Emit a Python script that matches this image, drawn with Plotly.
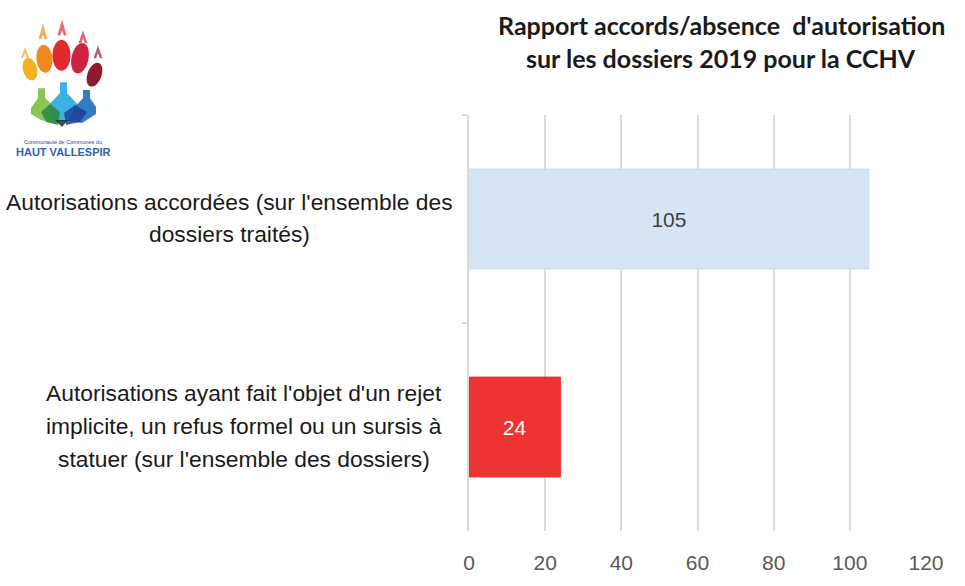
import math
import plotly.graph_objects as go

# --- data -------------------------------------------------------------
categories = [
    "Autorisations accordées (sur l'ensemble des dossiers traités)",
    "Autorisations ayant fait l'objet d'un rejet implicite, un refus formel ou un sursis à statuer (sur l'ensemble des dossiers)",
]
category_lines = [
    ["Autorisations accordées (sur l'ensemble des", "dossiers traités)"],
    ["Autorisations ayant fait l'objet d'un rejet",
     "implicite, un refus formel ou un sursis à",
     "statuer (sur l'ensemble des dossiers)"],
]
values = [105, 24]
bar_colors = ["#D5E5F4", "#EE3333"]
label_colors = ["#404040", "#FFFFFF"]
x_ticks = [0, 20, 40, 60, 80, 100, 120]
title_lines = ["Rapport accords/absence  d'autorisation",
               "sur les dossiers 2019 pour la CCHV"]

# --- geometry helpers (pixel -> paper) --------------------------------
W, H = 965, 586
ML, MR, MT, MB = 469, 39, 115, 53
PW, PH = W - ML - MR, H - MT - MB


def px(x):
    return (x - ML) / PW


def py(y):
    return 1 - (y - MT) / PH


def path_from(points):
    return "M " + " L ".join(f"{px(x):.5f},{py(y):.5f}" for x, y in points) + " Z"


def ellipse(cx, cy, rx, ry, deg, n=48):
    a = math.radians(deg)
    pts = []
    for i in range(n):
        t = 2 * math.pi * i / n
        ex, ey = rx * math.cos(t), ry * math.sin(t)
        pts.append((cx + ex * math.cos(a) - ey * math.sin(a),
                    cy + ex * math.sin(a) + ey * math.cos(a)))
    return path_from(pts)


def chevron(kx, top, bot, half=4.5):
    return path_from([(kx, top), (kx + half, bot), (kx + half - 2.6, bot),
                      (kx, bot - 5), (kx - half + 2.6, bot), (kx - half, bot)])


fig = go.Figure()
fig.add_trace(go.Bar(
    y=categories,
    x=values,
    orientation="h",
    marker=dict(color=bar_colors, line=dict(color=["#C9DCF0", "#EE3333"], width=1)),
    text=[str(v) for v in values],
    textposition="inside",
    insidetextanchor="middle",
    textfont=dict(family="Liberation Sans, Arial, sans-serif", size=21, color=label_colors),
    hoverinfo="skip",
    showlegend=False,
))

shapes = []
annotations = []

# category labels, one line each, centred in their text block
block_centres = [229, 244]
line_gap = 33
for idx, lines in enumerate(category_lines):
    centre_y = MT + PH * (idx + 0.5) / len(category_lines)
    n = len(lines)
    for j, line in enumerate(lines):
        y = centre_y + (j - (n - 1) / 2) * line_gap - 1
        annotations.append(dict(
            x=px(block_centres[idx]), y=py(y), xref="paper", yref="paper",
            xanchor="center", yanchor="middle", showarrow=False, text=line,
            font=dict(family="Liberation Sans, Arial, sans-serif", size=22.8, color="#1A1A1A"),
        ))

# chart title
for j, line in enumerate(title_lines):
    annotations.append(dict(
        x=px(721), y=py(25 + 33 * j), xref="paper", yref="paper",
        xanchor="center", yanchor="middle", showarrow=False, text="<b>" + line + "</b>",
        font=dict(family="Lato, Open Sans, sans-serif", size=25, color="#1A1A1A"),
    ))

# logo: paw toes, claws and flasks
toes = [
    (30, 69, 7, 11.5, -15, "#F4B223", "#F8C46A"),
    (44.5, 58.5, 8, 14, -5, "#F08A1D", "#F5AB6A"),
    (61.5, 55, 9, 15.5, 0, "#E02A2F", "#EA6B6E"),
    (80, 58, 8.5, 15.5, 12, "#CE2340", "#DE6178"),
    (94.5, 74.5, 7, 12.5, 20, "#8E1B30", "#B8636F"),
]
claws = [(25, 47, 58), (43, 23, 39), (62, 19, 35), (83, 30, 43), (98, 45, 58)]
for (cx, cy, rx, ry, deg, col, light), (kx, top, bot) in zip(toes, claws):
    shapes.append(dict(type="path", xref="paper", yref="paper", path=ellipse(cx, cy, rx, ry, deg),
                       fillcolor=col, line=dict(width=0), layer="above"))
    shapes.append(dict(type="path", xref="paper", yref="paper", path=chevron(kx, top, bot),
                       fillcolor=light, line=dict(width=0), layer="above"))

flasks = [
    ([(38, 88), (45, 88), (45, 98), (58, 110), (56, 124), (41, 120), (31, 114), (31, 108), (38, 98)], "#7CC143"),
    ([(60, 82), (67, 82), (67, 93), (79, 106), (71, 121), (53, 121), (48, 106), (60, 93)], "#27A9E1"),
    ([(83, 90), (90, 90), (90, 98), (96, 107), (96, 114), (82, 123), (68, 121), (76, 106), (83, 98)], "#1F6DB8"),
]
for pts, col in flasks:
    shapes.append(dict(type="path", xref="paper", yref="paper", path=path_from(pts),
                       fillcolor=col, line=dict(width=0), opacity=0.9, layer="above"))
shapes.append(dict(type="path", xref="paper", yref="paper",
                   path=path_from([(41, 112), (50, 104), (60, 112), (58, 125), (46, 122)]),
                   fillcolor="#2D8A3E", line=dict(width=0), opacity=0.85, layer="above"))
shapes.append(dict(type="path", xref="paper", yref="paper",
                   path=path_from([(64, 113), (75, 105), (87, 112), (80, 122), (66, 125)]),
                   fillcolor="#1B3D93", line=dict(width=0), opacity=0.8, layer="above"))
shapes.append(dict(type="path", xref="paper", yref="paper",
                   path=path_from([(55, 120), (68, 120), (62, 127)]),
                   fillcolor="#14302A", line=dict(width=0), opacity=0.85, layer="above"))

annotations.append(dict(x=px(63), y=py(142), xref="paper", yref="paper", showarrow=False,
                        xanchor="center", yanchor="middle", text="Communauté de Communes du",
                        font=dict(family="Liberation Sans, Arial, sans-serif", size=5.5, color="#2E4A8F")))
annotations.append(dict(x=px(63), y=py(152), xref="paper", yref="paper", showarrow=False,
                        xanchor="center", yanchor="middle", text="<b>HAUT VALLESPIR</b>",
                        font=dict(family="Liberation Sans, Arial, sans-serif", size=11, color="#2A63B0")))

fig.update_layout(
    width=W, height=H,
    margin=dict(l=ML, r=MR, t=MT, b=MB, pad=0),
    paper_bgcolor="white", plot_bgcolor="white",
    bargap=0.52,
    shapes=shapes,
    annotations=annotations,
    xaxis=dict(
        range=[0, 120], tickvals=x_ticks, ticktext=[str(t) for t in x_ticks],
        showgrid=True, gridcolor="#D9D9D9", gridwidth=1.5, zeroline=False,
        showline=False, ticks="", ticklabelstandoff=17,
        tickfont=dict(family="Liberation Sans, Arial, sans-serif", size=21, color="#595959"),
        fixedrange=True,
    ),
    yaxis=dict(
        autorange="reversed", showticklabels=False, showgrid=False, zeroline=False,
        showline=True, linecolor="#D9D9D9", linewidth=1.5,
        ticks="outside", tickson="boundaries", ticklen=5, tickcolor="#D9D9D9", tickwidth=1.5,
        fixedrange=True,
    ),
)

fig.write_html("out.html", config={"displayModeBar": False})
